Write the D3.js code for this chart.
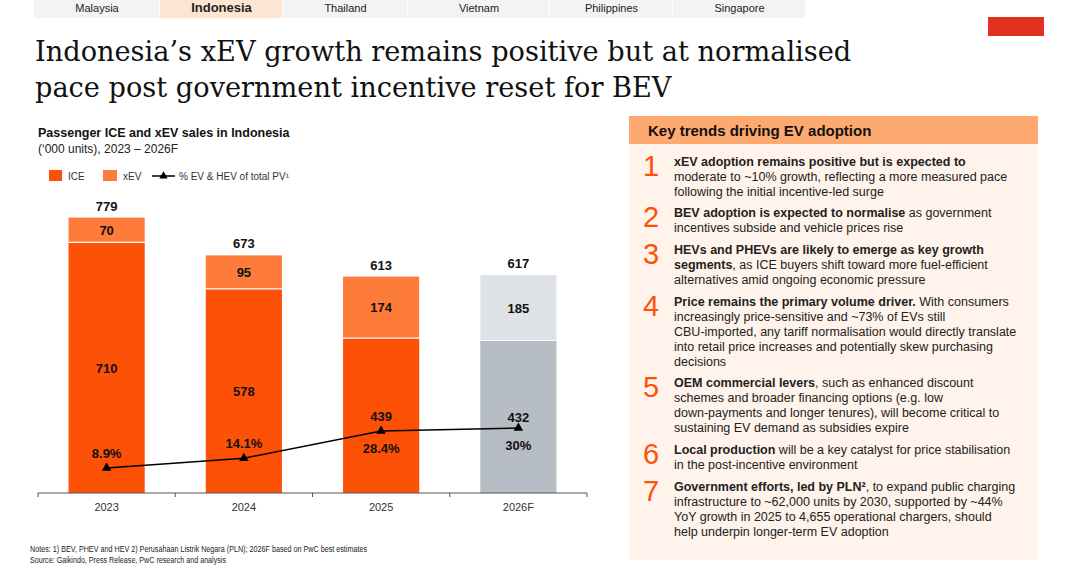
<!DOCTYPE html>
<html>
<head>
<meta charset="utf-8">
<script src="https://cdn.jsdelivr.net/npm/d3@7"></script>
<style>
  body { margin: 0; background: #fff; }
  svg { display: block; font-family: "Liberation Sans", Arial, sans-serif; }
</style>
</head>
<body>
<svg id="chart" width="1080" height="574"></svg>
<script>
// ---- data ----
const years = ['2023', '2024', '2025', '2026F'];
const iceSales = [710, 578, 439, 432];
const xevSales = [70, 95, 174, 185];
const totalSales = [779, 673, 613, 617];
const evShare = [8.9, 14.1, 28.4, 30];
const shareLabels = ['8.9%', '14.1%', '28.4%', '30%'];
const forecast = [false, false, false, true];

const tabs = ['Malaysia', 'Indonesia', 'Thailand', 'Vietnam', 'Philippines', 'Singapore'];
const activeTab = 'Indonesia';

// key trends: each line is a list of [text, bold]
const trends = [
  [[['xEV adoption remains positive but is expected to', true]],
   [['moderate to ~10% growth, reflecting a more measured pace', false]],
   [['following the initial incentive-led surge', false]]],
  [[['BEV adoption is expected to normalise', true], [' as government', false]],
   [['incentives subside and vehicle prices rise', false]]],
  [[['HEVs and PHEVs are likely to emerge as key growth', true]],
   [['segments', true], [', as ICE buyers shift toward more fuel-efficient', false]],
   [['alternatives amid ongoing economic pressure', false]]],
  [[['Price remains the primary volume driver.', true], [' With consumers', false]],
   [['increasingly price-sensitive and ~73% of EVs still', false]],
   [['CBU-imported, any tariff normalisation would directly translate', false]],
   [['into retail price increases and potentially skew purchasing', false]],
   [['decisions', false]]],
  [[['OEM commercial levers', true], [', such as enhanced discount', false]],
   [['schemes and broader financing options (e.g. low', false]],
   [['down-payments and longer tenures), will become critical to', false]],
   [['sustaining EV demand as subsidies expire', false]]],
  [[['Local production', true], [' will be a key catalyst for price stabilisation', false]],
   [['in the post-incentive environment', false]]],
  [[['Government efforts, led by PLN\u00B2', true], [', to expand public charging', false]],
   [['infrastructure to ~62,000 units by 2030, supported by ~44%', false]],
   [['YoY growth in 2025 to 4,655 operational chargers, should', false]],
   [['help underpin longer-term EV adoption', false]]]
];

const svg = d3.select('#chart');

// ---- tabs across the top ----
const tabEdges = [34, 160, 283, 408, 550, 673, 806];
const tabG = svg.append('g');
tabs.forEach((t, i) => {
  const x0 = tabEdges[i], x1 = tabEdges[i + 1];
  tabG.append('rect')
    .attr('x', x0).attr('y', 0)
    .attr('width', x1 - x0 - 1).attr('height', 18)
    .attr('fill', t === activeTab ? '#fde5d3' : '#f3f3f3');
  tabG.append('text')
    .attr('x', (x0 + x1) / 2).attr('y', 12)
    .attr('text-anchor', 'middle')
    .style('font-size', t === activeTab ? '13px' : '11px')
    .style('font-weight', t === activeTab ? 'bold' : 'normal')
    .style('fill', '#222')
    .text(t);
});

// little red brand box
svg.append('rect').attr('x', 988).attr('y', 17).attr('width', 56).attr('height', 19).attr('fill', '#e0301e');

// ---- title ----
const title = svg.append('text')
  .style('font-family', '"DejaVu Serif", Georgia, serif')
  .style('font-size', '27.2px')
  .style('fill', '#111');
title.append('tspan').attr('x', 35).attr('y', 61).text('Indonesia\u2019s xEV growth remains positive but at normalised');
title.append('tspan').attr('x', 35).attr('y', 97).text('pace post government incentive reset for BEV');

// ---- chart heading + legend ----
svg.append('text').attr('x', 38).attr('y', 137)
  .style('font-size', '12.5px').style('font-weight', 'bold').style('fill', '#111')
  .text('Passenger ICE and xEV sales in Indonesia');
svg.append('text').attr('x', 38).attr('y', 153)
  .style('font-size', '12px').style('fill', '#222')
  .text('(\u2018000 units), 2023 \u2013 2026F');

const legend = svg.append('g').attr('transform', 'translate(0,176)');
legend.append('rect').attr('x', 49).attr('y', -6).attr('width', 13).attr('height', 11).attr('fill', '#fd5108');
legend.append('text').attr('x', 68).attr('y', 4).style('font-size', '10px').style('fill', '#333').text('ICE');
legend.append('rect').attr('x', 103).attr('y', -6).attr('width', 14).attr('height', 11).attr('fill', '#fe7c39');
legend.append('text').attr('x', 123).attr('y', 4).style('font-size', '10px').style('fill', '#333').text('xEV');
legend.append('line').attr('x1', 152).attr('x2', 175).attr('y1', 0).attr('y2', 0).attr('stroke', '#000').attr('stroke-width', 1.5);
legend.append('path').attr('d', d3.symbol(d3.symbolTriangle, 30)()).attr('transform', 'translate(163.5,0)').attr('fill', '#000');
legend.append('text').attr('x', 179).attr('y', 4).style('font-size', '10px').style('fill', '#333')
  .text('% EV & HEV of total PV\u00B9');

// ---- scales ----
const baseY = 493;
const x = d3.scaleBand().domain(years).range([38, 587]).paddingInner(0.445).paddingOuter(0.2225);
const y = d3.scaleLinear().domain([0, 779]).range([baseY, 218]);
const yPct = d3.scaleLinear().domain([0, 30]).range([baseY - 8, baseY - 65]);

const colIce = (i) => forecast[i] ? '#b7bdc5' : '#fd5108';
const colXev = (i) => forecast[i] ? '#dfe2e6' : '#fe7c39';

const chart = svg.append('g');

// ICE segments
chart.selectAll('rect.ice').data(iceSales).enter().append('rect')
  .attr('class', 'ice')
  .attr('x', (d, i) => x(years[i]))
  .attr('width', x.bandwidth())
  .attr('y', d => y(d))
  .attr('height', d => baseY - y(d))
  .attr('fill', (d, i) => colIce(i));

// xEV segments on top
chart.selectAll('rect.xev').data(xevSales).enter().append('rect')
  .attr('class', 'xev')
  .attr('x', (d, i) => x(years[i]))
  .attr('width', x.bandwidth())
  .attr('y', (d, i) => y(iceSales[i] + d))
  .attr('height', (d, i) => y(iceSales[i]) - y(iceSales[i] + d))
  .attr('fill', (d, i) => colXev(i));

// white divider between segments
chart.selectAll('line.sep').data(iceSales).enter().append('line')
  .attr('x1', (d, i) => x(years[i]))
  .attr('x2', (d, i) => x(years[i]) + x.bandwidth())
  .attr('y1', d => y(d)).attr('y2', d => y(d))
  .attr('stroke', '#fff').attr('stroke-width', 1.2);

const valueFont = (sel) => sel.attr('text-anchor', 'middle')
  .style('font-size', '13px').style('font-weight', 'bold').style('fill', '#111');

// ICE labels centred in segment
chart.selectAll('text.iceLbl').data(iceSales).enter().append('text')
  .attr('x', (d, i) => x(years[i]) + x.bandwidth() / 2)
  .attr('y', d => (y(d) + baseY) / 2 + 5)
  .call(valueFont)
  .text(d => d);

// xEV labels
chart.selectAll('text.xevLbl').data(xevSales).enter().append('text')
  .attr('x', (d, i) => x(years[i]) + x.bandwidth() / 2)
  .attr('y', (d, i) => (y(iceSales[i] + d) + y(iceSales[i])) / 2 + 5)
  .call(valueFont)
  .text(d => d);

// totals above bars
chart.selectAll('text.tot').data(totalSales).enter().append('text')
  .attr('x', (d, i) => x(years[i]) + x.bandwidth() / 2)
  .attr('y', (d, i) => y(iceSales[i] + xevSales[i]) - 7)
  .call(valueFont)
  .text(d => d);

// ---- axis ----
const axisG = svg.append('g');
axisG.append('line').attr('x1', 38).attr('x2', 587).attr('y1', baseY).attr('y2', baseY)
  .attr('stroke', '#555').attr('stroke-width', 1.2);
d3.range(years.length + 1).forEach(k => {
  const tx = 38 + k * x.step();
  axisG.append('line').attr('x1', tx).attr('x2', tx).attr('y1', baseY).attr('y2', baseY + 4)
    .attr('stroke', '#555').attr('stroke-width', 1);
});
axisG.selectAll('text').data(years).enter().append('text')
  .attr('x', d => x(d) + x.bandwidth() / 2)
  .attr('y', baseY + 18)
  .attr('text-anchor', 'middle')
  .style('font-size', '11px').style('fill', '#333')
  .text(d => d);

// ---- share line ----
const line = d3.line()
  .x((d, i) => x(years[i]) + x.bandwidth() / 2)
  .y(d => yPct(d));
chart.append('path').datum(evShare)
  .attr('d', line)
  .attr('fill', 'none').attr('stroke', '#000').attr('stroke-width', 1.5);
chart.selectAll('path.tri').data(evShare).enter().append('path')
  .attr('d', d3.symbol(d3.symbolTriangle, 40)())
  .attr('transform', (d, i) => `translate(${x(years[i]) + x.bandwidth() / 2},${yPct(d)})`)
  .attr('fill', '#000');
chart.selectAll('text.pct').data(evShare).enter().append('text')
  .attr('x', (d, i) => x(years[i]) + x.bandwidth() / 2)
  .attr('y', (d, i) => yPct(d) + (d > 20 ? 22 : -10))
  .attr('text-anchor', 'middle')
  .style('font-size', '13px').style('font-weight', 'bold').style('fill', '#111')
  .text((d, i) => shareLabels[i]);

// ---- notes ----
svg.append('text').attr('x', 30).attr('y', 552)
  .attr('textLength', 337).attr('lengthAdjust', 'spacingAndGlyphs')
  .style('font-size', '8.5px').style('fill', '#222')
  .text('Notes: 1) BEV, PHEV and HEV 2) Perusahaan Listrik Negara (PLN); 2026F based on PwC best estimates');
svg.append('text').attr('x', 30).attr('y', 563)
  .attr('textLength', 196).attr('lengthAdjust', 'spacingAndGlyphs')
  .style('font-size', '8.5px').style('fill', '#222')
  .text('Source: Gaikindo, Press Release, PwC research and analysis');

// ---- key trends panel ----
const panel = svg.append('g');
panel.append('rect').attr('x', 629).attr('y', 116).attr('width', 409).attr('height', 28).attr('fill', '#fea96f');
panel.append('rect').attr('x', 629).attr('y', 144).attr('width', 409).attr('height', 416).attr('fill', '#fff3eb');
panel.append('text').attr('x', 648).attr('y', 136)
  .style('font-size', '15px').style('font-weight', 'bold').style('fill', '#111')
  .text('Key trends driving EV adoption');

const firstLineY = [166, 217, 254, 306, 387, 454, 491];
const lineH = 15;
trends.forEach((item, k) => {
  panel.append('text')
    .attr('x', 651).attr('y', firstLineY[k] + 10)
    .attr('text-anchor', 'middle')
    .style('font-size', '29px').style('fill', '#fd5108')
    .text(k + 1);
  item.forEach((segs, j) => {
    const t = panel.append('text')
      .attr('x', 674).attr('y', firstLineY[k] + j * lineH)
      .style('font-size', '12.5px').style('fill', '#222');
    segs.forEach(([s, b]) => {
      t.append('tspan').style('font-weight', b ? 'bold' : 'normal').text(s);
    });
  });
});
</script>
</body>
</html>
